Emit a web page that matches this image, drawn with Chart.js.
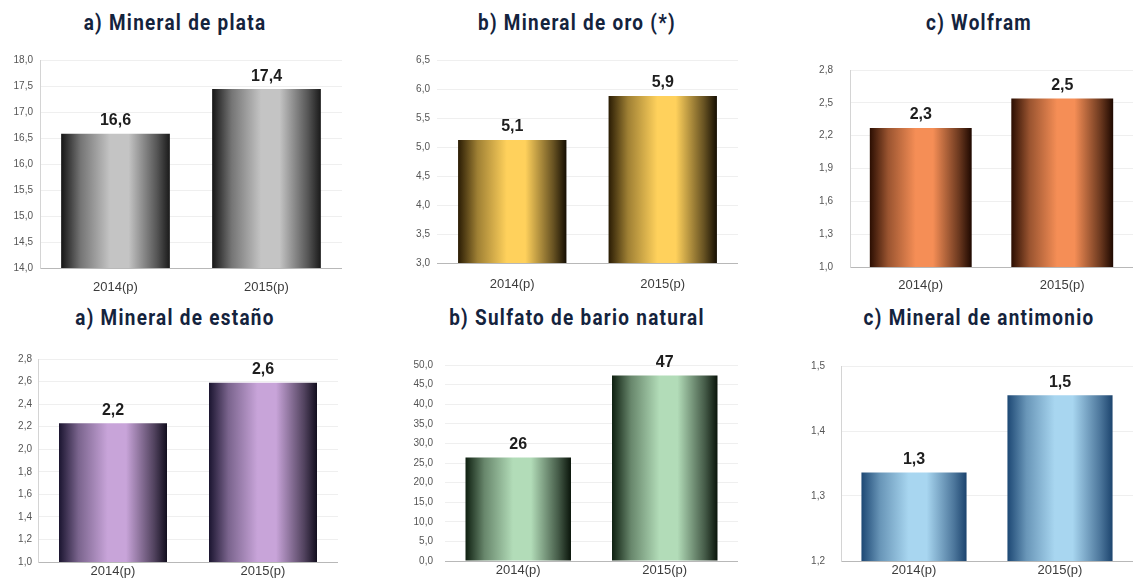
<!DOCTYPE html>
<html lang="es">
<head>
<meta charset="UTF-8">
<title>Producción minera 2014-2015</title>
<style>
    html, body { margin: 0; padding: 0; background: #fff; }
    body { width: 1133px; height: 584px; position: relative; overflow: hidden; }
    .titulo {
        position: absolute;
        transform: translate(-50%, -50%) scaleX(0.86);
        white-space: nowrap;
        font-family: "Roboto", "DejaVu Sans", sans-serif;
        font-weight: bold;
        font-size: 22px;
        letter-spacing: 1.5px;
        color: #14233d;
    }
    .caja { position: absolute; }
    .caja canvas { display: block; }
</style>
</head>
<body>

<script src="https://cdn.jsdelivr.net/npm/chart.js"></script>
<script>
    // datos
    const years = ['2014(p)', '2015(p)'];
    const titles = ['a) Mineral de plata', 'b) Mineral de oro (*)', 'c) Wolfram',
                    'a) Mineral de estaño', 'b) Sulfato de bario natural', 'c) Mineral de antimonio'];
    const plata = [16.58, 17.44];
    const oro = [5.12, 5.88];
    const wolfram = [2.27, 2.54];
    const estano = [2.23, 2.59];
    const bario = [26.4, 47.3];
    const antimonio = [1.336, 1.455];
    const series = [plata, oro, wolfram, estano, bario, antimonio];
    const decimals = [1, 1, 1, 1, 0, 1];
    const yMin = [14, 3, 1, 1, 0, 1.2];
    const yMax = [18, 6.5, 2.8, 2.8, 50, 1.5];
    const yStep = [0.5, 0.5, 0.3, 0.2, 5, 0.1];

    // layout de cada grafico (area de trazado en px)
    const boxes = [
        { L: 40, R: 342, T: 57, B: 268, gap: 7, xpad: 12, axisH: 30, yLine: true },
        { L: 437, R: 738, T: 57, B: 263, gap: 7, xpad: 14, axisH: 30, yLine: false },
        { L: 850, R: 1133, T: 57, B: 267, gap: 17, xpad: 11, axisH: 30, yLine: true },
        { L: 38, R: 338, T: 357, B: 562, gap: 6, xpad: 2, axisH: 22, yLine: true },
        { L: 445, R: 738, T: 357, B: 561, gap: 12, xpad: 2, axisH: 23, yLine: false },
        { L: 841, R: 1133, T: 354, B: 561, gap: 16, xpad: 2, axisH: 23, yLine: true }
    ];
    const titlePos = [[175, 22], [577, 22], [979, 22], [175, 317], [577, 317], [979, 317]];

    // colores del cilindro: borde izq, centro, borde der
    const palettes = [
        ['#151515', '#c4c4c4', '#1a1a1a'],
        ['#2a1c04', '#ffd15c', '#150e02'],
        ['#2b0e02', '#f58e56', '#1e0800'],
        ['#1b1530', '#c8a4d9', '#120e1e'],
        ['#0e1f10', '#b2dcb8', '#0a150b'],
        ['#1d4874', '#a8d6f0', '#1c446e']
    ];

    function mix(a, b, t) {
        const pa = parseInt(a.slice(1), 16), pb = parseInt(b.slice(1), 16);
        const ch = s => [(s >> 16) & 255, (s >> 8) & 255, s & 255];
        const A = ch(pa), B = ch(pb);
        return 'rgb(' + A.map((v, i) => Math.round(v + (B[i] - v) * t)).join(',') + ')';
    }

    const fmt = (v, d) => v.toFixed(d).replace('.', ',');

    // etiquetas de valor sobre cada barra
    const valueLabels = {
        id: 'valueLabels',
        afterDatasetsDraw(chart) {
            const c = chart.ctx;
            const d = chart.options.plugins.valueLabels.decimals;
            const meta = chart.getDatasetMeta(0);
            c.save();
            c.font = 'bold 16px "Liberation Sans", Arial, sans-serif';
            c.fillStyle = '#1e1e1e';
            c.textAlign = 'center';
            c.textBaseline = 'bottom';
            meta.data.forEach((el, i) => {
                c.fillText(fmt(chart.data.datasets[0].data[i], d), el.x, el.y - 5);
            });
            c.restore();
        }
    };

    const BAR_PCT = 0.72;
    const Y_AXIS_W = 45;
    const PAD_TOP = 10;

    series.forEach((data, k) => {
        const b = boxes[k];
        const t = document.createElement('div');
        t.className = 'titulo';
        t.textContent = titles[k];
        t.style.left = titlePos[k][0] + 'px';
        t.style.top = titlePos[k][1] + 'px';
        document.body.appendChild(t);

        const left = b.L - Y_AXIS_W;
        const top = b.T - PAD_TOP;
        const w = b.R - left;
        const h = b.B - top + b.axisH;
        const box = document.createElement('div');
        box.className = 'caja';
        box.style.left = left + 'px';
        box.style.top = top + 'px';
        box.style.width = w + 'px';
        box.style.height = h + 'px';
        const cv = document.createElement('canvas');
        box.appendChild(cv);
        document.body.appendChild(box);

        const pal = palettes[k];
        new Chart(cv, {
            type: 'bar',
            data: {
                labels: years,
                datasets: [{
                    data: data,
                    barPercentage: BAR_PCT,
                    categoryPercentage: 1,
                    borderWidth: 0,
                    backgroundColor: function (ctx) {
                        const xs = ctx.chart.scales.x;
                        if (!xs || !ctx.chart.chartArea) return pal[1];
                        const cx = xs.getPixelForValue(ctx.dataIndex);
                        const half = xs.width / years.length * BAR_PCT / 2;
                        const g = ctx.chart.ctx.createLinearGradient(cx - half, 0, cx + half, 0);
                        g.addColorStop(0, pal[0]);
                        g.addColorStop(0.18, mix(pal[0], pal[1], 0.55));
                        g.addColorStop(0.45, pal[1]);
                        g.addColorStop(0.62, pal[1]);
                        g.addColorStop(0.88, mix(pal[2], pal[1], 0.35));
                        g.addColorStop(1, pal[2]);
                        return g;
                    }
                }]
            },
            options: {
                responsive: true,
                maintainAspectRatio: false,
                animation: false,
                events: [],
                layout: { padding: { top: PAD_TOP, right: 0, left: 0, bottom: 0 } },
                plugins: {
                    legend: { display: false },
                    tooltip: { enabled: false },
                    valueLabels: { decimals: decimals[k] }
                },
                scales: {
                    x: {
                        grid: { display: false, drawTicks: false },
                        border: { display: true, color: '#b8b8b8' },
                        ticks: {
                            padding: b.xpad,
                            color: '#3c3c3c',
                            font: { family: '"Liberation Sans", Arial, sans-serif', size: 13 }
                        },
                        afterFit: s => { s.height = b.axisH; }
                    },
                    y: {
                        min: yMin[k],
                        max: yMax[k],
                        grid: { color: '#efefef', drawTicks: false },
                        border: { display: b.yLine, color: '#d4d4d4' },
                        ticks: {
                            stepSize: yStep[k],
                            padding: b.gap,
                            color: '#555',
                            font: { family: '"Liberation Sans", Arial, sans-serif', size: 10 },
                            callback: v => fmt(v, 1)
                        },
                        afterFit: s => { s.width = Y_AXIS_W; }
                    }
                }
            },
            plugins: [valueLabels]
        });
    });
</script>
</body>
</html>
